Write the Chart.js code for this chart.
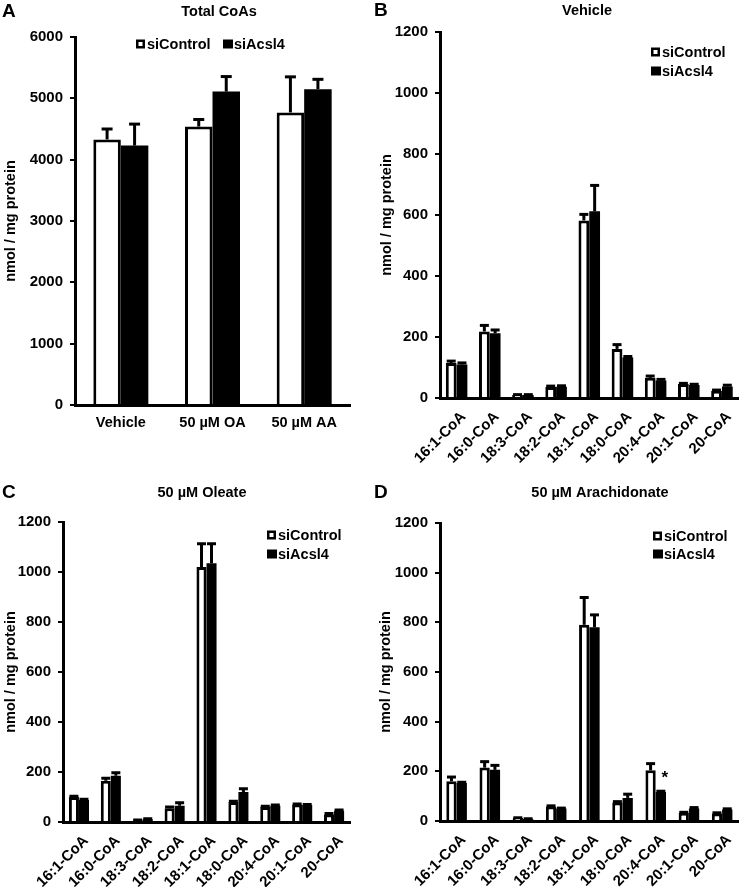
<!DOCTYPE html>
<html>
<head>
<meta charset="utf-8">
<script src="https://cdn.jsdelivr.net/npm/chart.js@4.4.0/dist/chart.umd.min.js"></script>
<style>
html,body{margin:0;padding:0;background:#fff;}
#wrap{position:relative;width:745px;height:887px;overflow:hidden;background:#fff;}
.panel{position:absolute;}
.panel canvas{display:block;}
</style>
</head>
<body>
<div id="wrap">
  <div class="panel" style="left:0;top:0;width:372px;height:443px"><canvas id="cA"></canvas></div>
  <div class="panel" style="left:372px;top:0;width:373px;height:475px"><canvas id="cB"></canvas></div>
  <div class="panel" style="left:0;top:443px;width:372px;height:444px"><canvas id="cC"></canvas></div>
  <div class="panel" style="left:372px;top:443px;width:373px;height:444px"><canvas id="cD"></canvas></div>
</div>
<script>
// ---------- DATA ----------
const seriesNames = ['siControl', 'siAcsl4'];

const treatments = ['Vehicle', '50 µM OA', '50 µM AA'];
const totalControl    = [4330, 4540, 4770];
const totalControlErr = [170, 115, 580];
const totalAcsl4      = [4230, 5110, 5150];
const totalAcsl4Err   = [350, 245, 160];

const acylCoAs = ['16:1-CoA', '16:0-CoA', '18:3-CoA', '18:2-CoA', '18:1-CoA', '18:0-CoA', '20:4-CoA', '20:1-CoA', '20-CoA'];

const vehicleControl    = [115, 218, 10, 36, 582, 161, 66, 46, 24];
const vehicleControlErr = [6, 20, 1, 3, 20, 14, 6, 2, 2];
const vehicleAcsl4      = [110, 212, 10, 37, 612, 133, 57, 43, 38];
const vehicleAcsl4Err   = [5, 11, 1, 3, 85, 3, 4, 2, 4];

const oleateControl    = [100, 165, 7, 55, 1020, 80, 60, 70, 30];
const oleateControlErr = [3, 10, 1, 5, 93, 3, 3, 2, 4];
const oleateAcsl4      = [88, 185, 11, 65, 1035, 120, 65, 68, 45];
const oleateAcsl4Err   = [3, 12, 2, 12, 78, 13, 3, 2, 3];

const arachControl    = [160, 215, 12, 58, 790, 74, 204, 33, 30];
const arachControlErr = [17, 24, 1, 3, 110, 4, 27, 2, 3];
const arachAcsl4      = [153, 206, 8, 50, 780, 93, 117, 50, 46];
const arachAcsl4Err   = [3, 18, 1, 2, 50, 15, 3, 4, 3];

const yTicksTotal = [0, 1000, 2000, 3000, 4000, 5000, 6000];
const yTicksAcyl  = [0, 200, 400, 600, 800, 1000, 1200];

// ---------- STYLE ----------
const FONT = "'Liberation Sans', Arial, Helvetica, sans-serif";
Chart.defaults.font.family = FONT;
Chart.defaults.font.weight = 'bold';
Chart.defaults.font.size = 14.5;
Chart.defaults.color = '#000';

const decoPlugin = {
  id: 'deco',
  afterDatasetsDraw(chart, args, opts) {
    const ctx = chart.ctx;
    const ys = chart.scales.y;
    chart.data.datasets.forEach((ds, di) => {
      const meta = chart.getDatasetMeta(di);
      meta.data.forEach((bar, i) => {
        const e = ds.errors[i];
        const yTop = ys.getPixelForValue(ds.data[i] + e);
        ctx.save();
        ctx.strokeStyle = '#000';
        ctx.lineWidth = opts.errWidth;
        ctx.lineCap = 'butt';
        ctx.beginPath();
        ctx.moveTo(bar.x, bar.y);
        ctx.lineTo(bar.x, yTop);
        ctx.stroke();
        ctx.beginPath();
        ctx.moveTo(bar.x - opts.capW / 2, yTop);
        ctx.lineTo(bar.x + opts.capW / 2, yTop);
        ctx.stroke();
        ctx.restore();
      });
    });
  },
  afterDraw(chart, args, opts) {
    const ctx = chart.ctx;
    ctx.save();
    ctx.fillStyle = '#000';
    ctx.textBaseline = 'middle';
    // panel letter
    ctx.font = 'bold 19px ' + FONT;
    ctx.textAlign = 'left';
    ctx.fillText(opts.letter, opts.letterX, opts.letterY);
    // title
    ctx.font = 'bold 14.5px ' + FONT;
    ctx.textAlign = 'center';
    ctx.fillText(opts.title, opts.titleX, opts.titleY);
    // legend
    ctx.textAlign = 'left';
    chart.data.datasets.forEach((ds, di) => {
      const p = opts.legend[di];
      const s = 9;
      if (di === 0) {
        ctx.fillStyle = '#fff';
        ctx.fillRect(p.x, p.y - s / 2, s, s);
        ctx.strokeStyle = '#000';
        ctx.lineWidth = 2.5;
        ctx.strokeRect(p.x + 1.25, p.y - s / 2 + 1.25, s - 2.5, s - 2.5);
      } else {
        ctx.fillStyle = '#000';
        ctx.fillRect(p.x, p.y - s / 2, s + 1, s);
      }
      ctx.fillStyle = '#000';
      ctx.fillText(ds.label, p.x + 11, p.y + 1);
    });
    // significance stars
    (opts.stars || []).forEach(st => {
      const bar = chart.getDatasetMeta(1).data[st.index];
      ctx.font = 'bold 17px ' + FONT;
      ctx.textAlign = 'center';
      ctx.textBaseline = 'alphabetic';
      ctx.fillText('*', bar.x + 4, bar.y - 9);
    });
    ctx.restore();
  }
};

function makeChart(id, cfg) {
  const labels = cfg.labels;
  const rotated = cfg.rotated;
  return new Chart(document.getElementById(id), {
    type: 'bar',
    data: {
      labels: labels,
      datasets: [
        { label: seriesNames[0], data: cfg.c, errors: cfg.ce, backgroundColor: '#fff', borderColor: '#000', borderWidth: 3, borderSkipped: 'start' },
        { label: seriesNames[1], data: cfg.a, errors: cfg.ae, backgroundColor: '#000', borderColor: '#000', borderWidth: 0 }
      ]
    },
    options: {
      responsive: true,
      maintainAspectRatio: false,
      animation: false,
      events: [],
      layout: { padding: { top: cfg.padTop, right: cfg.padRight, left: 0, bottom: 0 } },
      datasets: { bar: { categoryPercentage: cfg.catPct, barPercentage: 1.0 } },
      plugins: {
        legend: { display: false },
        title: { display: false },
        tooltip: { enabled: false },
        deco: {
          letter: cfg.letter, letterX: 2, letterY: cfg.titleY,
          title: cfg.title, titleX: cfg.titleX, titleY: cfg.titleY,
          legend: cfg.legend, stars: cfg.stars,
          errWidth: 3, capW: cfg.capW
        }
      },
      scales: {
        x: {
          grid: { display: false, drawTicks: false },
          border: { display: true, width: 3, color: '#000' },
          ticks: {
            color: '#000', font: { size: rotated ? 15 : 14.5, weight: 'bold' },
            padding: rotated ? 10 : 9,
            labelOffset: rotated ? 7 : 0,
            maxRotation: rotated ? 45 : 0, minRotation: rotated ? 45 : 0,
            autoSkip: false
          },
          afterFit: s => { s.height = cfg.xHeight; }
        },
        y: {
          min: 0, max: cfg.yMax,
          afterBuildTicks: s => { s.ticks = cfg.yTicks.map(v => ({ value: v })); },
          grid: { display: true, drawOnChartArea: false, drawTicks: true, tickLength: 5, lineWidth: 2, color: '#000' },
          border: { display: true, width: 3, color: '#000' },
          ticks: { color: '#000', font: { size: 15, weight: 'bold' }, padding: 7, callback: v => String(v) },
          title: { display: true, text: 'nmol / mg protein', color: '#000', font: { size: 14.5, weight: 'bold' }, padding: { top: cfg.yTitlePad, bottom: 0 } },
          afterFit: s => { s.width = cfg.yWidth; }
        }
      }
    },
    plugins: [decoPlugin]
  });
}

makeChart('cA', {
  labels: treatments, c: totalControl, ce: totalControlErr, a: totalAcsl4, ae: totalAcsl4Err,
  yMax: 6000, yTicks: yTicksTotal, rotated: false,
  padTop: 37, padRight: 22, yWidth: 75, xHeight: 38, catPct: 0.6, capW: 11, yTitlePad: 2,
  letter: 'A', title: 'Total CoAs', titleX: 219, titleY: 12,
  legend: [{ x: 136, y: 44 }, { x: 223, y: 44 }]
});

makeChart('cB', {
  labels: acylCoAs, c: vehicleControl, ce: vehicleControlErr, a: vehicleAcsl4, ae: vehicleAcsl4Err,
  yMax: 1200, yTicks: yTicksAcyl, rotated: true,
  padTop: 32, padRight: 6, yWidth: 68, xHeight: 77, catPct: 0.65, capW: 9, yTitlePad: 6,
  letter: 'B', title: 'Vehicle', titleX: 215, titleY: 11,
  legend: [{ x: 279, y: 52 }, { x: 279, y: 71 }]
});

makeChart('cC', {
  labels: acylCoAs, c: oleateControl, ce: oleateControlErr, a: oleateAcsl4, ae: oleateAcsl4Err,
  yMax: 1200, yTicks: yTicksAcyl, rotated: true,
  padTop: 79, padRight: 22, yWidth: 63, xHeight: 65, catPct: 0.63, capW: 9, yTitlePad: 2,
  letter: 'C', title: '50 µM Oleate', titleX: 202, titleY: 50,
  legend: [{ x: 267, y: 92 }, { x: 267, y: 111 }]
});

makeChart('cD', {
  labels: acylCoAs, c: arachControl, ce: arachControlErr, a: arachAcsl4, ae: arachAcsl4Err,
  yMax: 1200, yTicks: yTicksAcyl, rotated: true,
  padTop: 80, padRight: 3, yWidth: 68, xHeight: 66, catPct: 0.62, capW: 9, yTitlePad: 5,
  letter: 'D', title: '50 µM Arachidonate', titleX: 228, titleY: 50,
  legend: [{ x: 281, y: 93 }, { x: 281, y: 111 }],
  stars: [{ index: 6 }]
});
</script>
</body>
</html>
